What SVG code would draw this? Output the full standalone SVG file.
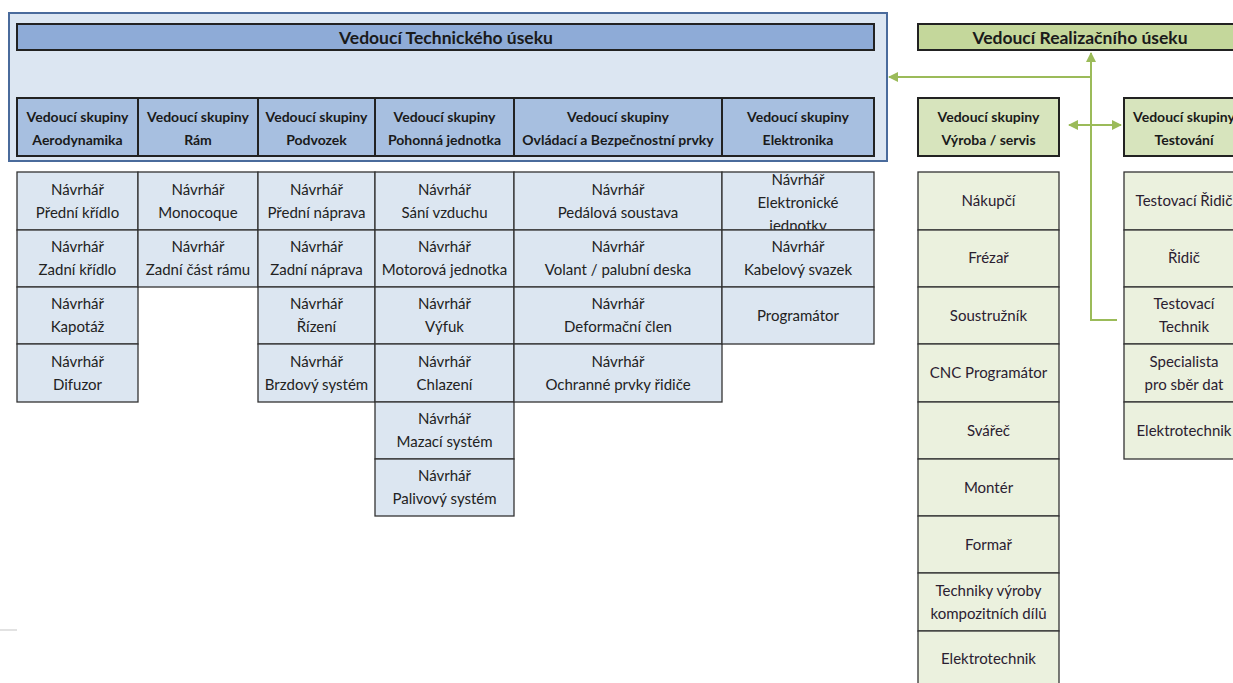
<svg xmlns="http://www.w3.org/2000/svg" width="1233" height="683" viewBox="0 0 1233 683">
  <defs>
    <style>
      text { font-family: Lato, "Liberation Sans", sans-serif; text-anchor: middle; }
      .t { font-size: 15px; fill: #222; }
      .tr { font-size: 15px; fill: #2a2030; }
      .b { font-size: 14px; font-weight: bold; fill: #1a1a1a; }
      .h { font-size: 17.5px; font-weight: bold; fill: #1a1a1a; }
      .frame { fill: #dce6f2; stroke: #4a6b9c; stroke-width: 2; }
      .hb { fill: #8eabd7; stroke: #222; stroke-width: 2; }
      .gb { fill: #a7bfe0; stroke: #222; stroke-width: 2; }
      .cb { fill: #dce6f1; stroke: #333; stroke-width: 1.3; }
      .hg { fill: #c4d79b; stroke: #222; stroke-width: 2; }
      .gg { fill: #d7e4bd; stroke: #222; stroke-width: 2; }
      .cg { fill: #ebf1de; stroke: #333; stroke-width: 1.3; }
      .ln { fill: none; stroke: #9bbb59; stroke-width: 2; }
    </style>
    <marker id="ah" viewBox="0 0 10 10" refX="9" refY="5" markerWidth="5" markerHeight="5" orient="auto-start-reverse">
      <path d="M0,0 L10,5 L0,10 z" fill="#9bbb59"/>
    </marker>
    <clipPath id="clipEl"><rect x="722" y="172" width="152" height="58"/></clipPath>
  </defs>

  <!-- Technical section -->
  <g id="tech-section">
    <rect class="frame" x="9" y="13" width="878" height="148"/>
    <rect class="hb" x="17" y="24" width="857" height="26"/>
    <text class="h" x="446" y="43.5">Vedoucí Technického úseku</text>
  </g>

  <g id="grp-aero">
    <rect class="gb" x="17" y="98" width="121" height="58"/>
    <text class="b" x="77.5" y="122">Vedoucí skupiny</text>
    <text class="b" x="77.5" y="145">Aerodynamika</text>
  </g>
  <g id="grp-ram">
    <rect class="gb" x="138" y="98" width="120" height="58"/>
    <text class="b" x="198" y="122">Vedoucí skupiny</text>
    <text class="b" x="198" y="145">Rám</text>
  </g>
  <g id="grp-podvozek">
    <rect class="gb" x="258" y="98" width="117" height="58"/>
    <text class="b" x="316.5" y="122">Vedoucí skupiny</text>
    <text class="b" x="316.5" y="145">Podvozek</text>
  </g>
  <g id="grp-pohon">
    <rect class="gb" x="375" y="98" width="139" height="58"/>
    <text class="b" x="444.5" y="122">Vedoucí skupiny</text>
    <text class="b" x="444.5" y="145">Pohonná jednotka</text>
  </g>
  <g id="grp-ovladaci">
    <rect class="gb" x="514" y="98" width="208" height="58"/>
    <text class="b" x="618" y="122">Vedoucí skupiny</text>
    <text class="b" x="618" y="145">Ovládací a Bezpečnostní prvky</text>
  </g>
  <g id="grp-elektronika">
    <rect class="gb" x="722" y="98" width="152" height="58"/>
    <text class="b" x="798" y="122">Vedoucí skupiny</text>
    <text class="b" x="798" y="145">Elektronika</text>
  </g>

  <!-- Aerodynamika designers -->
  <g id="aero-1"><rect class="cb" x="17" y="172" width="121" height="58"/><text class="t" x="77.5" y="195">Návrhář</text><text class="t" x="77.5" y="218">Přední křídlo</text></g>
  <g id="aero-2"><rect class="cb" x="17" y="230" width="121" height="57"/><text class="t" x="77.5" y="252">Návrhář</text><text class="t" x="77.5" y="275">Zadní křídlo</text></g>
  <g id="aero-3"><rect class="cb" x="17" y="287" width="121" height="57"/><text class="t" x="77.5" y="309">Návrhář</text><text class="t" x="77.5" y="332">Kapotáž</text></g>
  <g id="aero-4"><rect class="cb" x="17" y="344" width="121" height="58"/><text class="t" x="77.5" y="367">Návrhář</text><text class="t" x="77.5" y="390">Difuzor</text></g>

  <!-- Rám designers -->
  <g id="ram-1"><rect class="cb" x="138" y="172" width="120" height="58"/><text class="t" x="198" y="195">Návrhář</text><text class="t" x="198" y="218">Monocoque</text></g>
  <g id="ram-2"><rect class="cb" x="138" y="230" width="120" height="57"/><text class="t" x="198" y="252">Návrhář</text><text class="t" x="198" y="275">Zadní část rámu</text></g>

  <!-- Podvozek designers -->
  <g id="podv-1"><rect class="cb" x="258" y="172" width="117" height="58"/><text class="t" x="316.5" y="195">Návrhář</text><text class="t" x="316.5" y="218">Přední náprava</text></g>
  <g id="podv-2"><rect class="cb" x="258" y="230" width="117" height="57"/><text class="t" x="316.5" y="252">Návrhář</text><text class="t" x="316.5" y="275">Zadní náprava</text></g>
  <g id="podv-3"><rect class="cb" x="258" y="287" width="117" height="57"/><text class="t" x="316.5" y="309">Návrhář</text><text class="t" x="316.5" y="332">Řízení</text></g>
  <g id="podv-4"><rect class="cb" x="258" y="344" width="117" height="58"/><text class="t" x="316.5" y="367">Návrhář</text><text class="t" x="316.5" y="390">Brzdový systém</text></g>

  <!-- Pohonná jednotka designers -->
  <g id="pohon-1"><rect class="cb" x="375" y="172" width="139" height="58"/><text class="t" x="444.5" y="195">Návrhář</text><text class="t" x="444.5" y="218">Sání vzduchu</text></g>
  <g id="pohon-2"><rect class="cb" x="375" y="230" width="139" height="57"/><text class="t" x="444.5" y="252">Návrhář</text><text class="t" x="444.5" y="275">Motorová jednotka</text></g>
  <g id="pohon-3"><rect class="cb" x="375" y="287" width="139" height="57"/><text class="t" x="444.5" y="309">Návrhář</text><text class="t" x="444.5" y="332">Výfuk</text></g>
  <g id="pohon-4"><rect class="cb" x="375" y="344" width="139" height="58"/><text class="t" x="444.5" y="367">Návrhář</text><text class="t" x="444.5" y="390">Chlazení</text></g>
  <g id="pohon-5"><rect class="cb" x="375" y="402" width="139" height="57"/><text class="t" x="444.5" y="424">Návrhář</text><text class="t" x="444.5" y="447">Mazací systém</text></g>
  <g id="pohon-6"><rect class="cb" x="375" y="459" width="139" height="57"/><text class="t" x="444.5" y="481">Návrhář</text><text class="t" x="444.5" y="504">Palivový systém</text></g>

  <!-- Ovládací a bezpečnostní prvky designers -->
  <g id="ovl-1"><rect class="cb" x="514" y="172" width="208" height="58"/><text class="t" x="618" y="195">Návrhář</text><text class="t" x="618" y="218">Pedálová soustava</text></g>
  <g id="ovl-2"><rect class="cb" x="514" y="230" width="208" height="57"/><text class="t" x="618" y="252">Návrhář</text><text class="t" x="618" y="275">Volant / palubní deska</text></g>
  <g id="ovl-3"><rect class="cb" x="514" y="287" width="208" height="57"/><text class="t" x="618" y="309">Návrhář</text><text class="t" x="618" y="332">Deformační člen</text></g>
  <g id="ovl-4"><rect class="cb" x="514" y="344" width="208" height="58"/><text class="t" x="618" y="367">Návrhář</text><text class="t" x="618" y="390">Ochranné prvky řidiče</text></g>

  <!-- Elektronika designers -->
  <g id="el-1">
    <rect class="cb" x="722" y="172" width="152" height="58"/>
    <g clip-path="url(#clipEl)">
      <text class="t" x="798" y="185">Návrhář</text>
      <text class="t" x="798" y="208">Elektronické</text>
      <text class="t" x="798" y="231">jednotky</text>
    </g>
  </g>
  <g id="el-2"><rect class="cb" x="722" y="230" width="152" height="57"/><text class="t" x="798" y="252">Návrhář</text><text class="t" x="798" y="275">Kabelový svazek</text></g>
  <g id="el-3"><rect class="cb" x="722" y="287" width="152" height="57"/><text class="t" x="798" y="321">Programátor</text></g>

  <!-- Realization section -->
  <g id="real-head">
    <rect class="hg" x="918" y="24" width="325" height="26"/>
    <text class="h" x="1080" y="43.5">Vedoucí Realizačního úseku</text>
  </g>
  <g id="grp-vyroba">
    <rect class="gg" x="918" y="98" width="141" height="58"/>
    <text class="b" x="988.5" y="122">Vedoucí skupiny</text>
    <text class="b" x="988.5" y="145">Výroba / servis</text>
  </g>
  <g id="grp-testovani">
    <rect class="gg" x="1124" y="98" width="120" height="58"/>
    <text class="b" x="1184" y="122">Vedoucí skupiny</text>
    <text class="b" x="1184" y="145">Testování</text>
  </g>

  <!-- Výroba / servis staff -->
  <g id="vyr-1"><rect class="cg" x="918" y="172" width="141" height="58"/><text class="tr" x="988.5" y="206">Nákupčí</text></g>
  <g id="vyr-2"><rect class="cg" x="918" y="230" width="141" height="57"/><text class="tr" x="988.5" y="263">Frézař</text></g>
  <g id="vyr-3"><rect class="cg" x="918" y="287" width="141" height="57"/><text class="tr" x="988.5" y="321">Soustružník</text></g>
  <g id="vyr-4"><rect class="cg" x="918" y="344" width="141" height="58"/><text class="tr" x="988.5" y="378">CNC Programátor</text></g>
  <g id="vyr-5"><rect class="cg" x="918" y="402" width="141" height="57"/><text class="tr" x="988.5" y="436">Svářeč</text></g>
  <g id="vyr-6"><rect class="cg" x="918" y="459" width="141" height="57"/><text class="tr" x="988.5" y="493">Montér</text></g>
  <g id="vyr-7"><rect class="cg" x="918" y="516" width="141" height="57"/><text class="tr" x="988.5" y="550">Formař</text></g>
  <g id="vyr-8"><rect class="cg" x="918" y="573" width="141" height="58"/><text class="tr" x="988.5" y="596">Techniky výroby</text><text class="tr" x="988.5" y="619">kompozitních dílů</text></g>
  <g id="vyr-9"><rect class="cg" x="918" y="631" width="141" height="58"/><text class="tr" x="988.5" y="664">Elektrotechnik</text></g>

  <!-- Testování staff -->
  <g id="test-1"><rect class="cg" x="1124" y="172" width="120" height="58"/><text class="tr" x="1184" y="206">Testovací Řidič</text></g>
  <g id="test-2"><rect class="cg" x="1124" y="230" width="120" height="57"/><text class="tr" x="1184" y="263">Řidič</text></g>
  <g id="test-3"><rect class="cg" x="1124" y="287" width="120" height="57"/><text class="tr" x="1184" y="309">Testovací</text><text class="tr" x="1184" y="332">Technik</text></g>
  <g id="test-4"><rect class="cg" x="1124" y="344" width="120" height="58"/><text class="tr" x="1184" y="367">Specialista</text><text class="tr" x="1184" y="390">pro sběr dat</text></g>
  <g id="test-5"><rect class="cg" x="1124" y="402" width="120" height="57"/><text class="tr" x="1184" y="436">Elektrotechnik</text></g>

  <!-- Connectors -->
  <g id="connectors">
    <path class="ln" d="M1091,320 L1091,53" marker-end="url(#ah)"/>
    <path class="ln" d="M1091,77 L889,77" marker-end="url(#ah)"/>
    <path class="ln" d="M1069,125 L1121,125" marker-start="url(#ah)" marker-end="url(#ah)"/>
    <path class="ln" d="M1090,320 L1117,320"/>
  </g>

  <!-- stray short rule at left margin -->
  <line x1="0" y1="630" x2="17" y2="630" stroke="#d8d8d8" stroke-width="1.5"/>
</svg>
